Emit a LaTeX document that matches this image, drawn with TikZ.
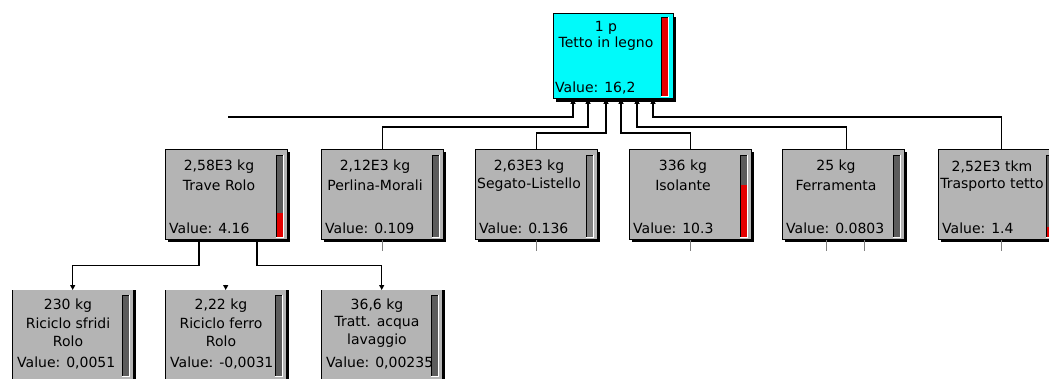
\documentclass[tikz,border=0pt]{standalone}
\usepackage{fontspec}
\setmainfont{DejaVu Sans}
\usetikzlibrary{arrows.meta,calc,shadows}
\definecolor{boxgray}{RGB}{180,180,180}
\definecolor{bargray}{RGB}{92,92,92}
\definecolor{barlight}{RGB}{128,128,128}
\definecolor{barred}{RGB}{228,0,0}
\definecolor{topcyan}{RGB}{0,250,250}
\tikzset{
  pbox/.style={draw=black, line width=0.8pt, fill=boxgray, inner sep=0pt,
    drop shadow={shadow xshift=3pt, shadow yshift=-3pt, fill=black, opacity=1}},
  topbox/.style={draw=black, line width=0.8pt, fill=topcyan, inner sep=0pt,
    drop shadow={shadow xshift=3pt, shadow yshift=-3.5pt, fill=black, opacity=1}},
  lbox/.style={fill=boxgray, inner sep=0pt,
    drop shadow={shadow xshift=2.5pt, shadow yshift=0pt, fill=black, opacity=1}},
  ptext/.style={inner sep=0pt, font=\fontsize{14}{16}\selectfont},
  arr/.style={line width=1.1pt, -{Triangle[width=5pt,length=5pt]}},
  stub/.style={line width=0.9pt, black!50},
}
% bar: node, x offset, top, bottom, red top, colour
\newcommand\pbar[6]{%
  \fill[#6] ($(#1.north west)+(#2,#3)$) rectangle ($(#1.north west)+(#2+7,#4)$);
  \fill[barred] ($(#1.north west)+(#2,#5)$) rectangle ($(#1.north west)+(#2+7,#4)$);
  \draw[black, line width=0.7pt] ($(#1.north west)+(#2,#4)$) -- ($(#1.north west)+(#2,#3)$) -- ($(#1.north west)+(#2+7,#3)$);
  \draw[white, line width=0.9pt] ($(#1.north west)+(#2+7,#3)$) -- ($(#1.north west)+(#2+7,#4)$) -- ($(#1.north west)+(#2,#4)$);
}
% middle box: name, left, line1, line2, value, red top, bar colour, bar x
\newcommand\midbox[8]{%
  \node[pbox, anchor=north west, minimum width=122pt, minimum height=90pt] (#1) at (#2,149) {};
  \node[ptext] (#1-a) at ($(#1.north west)+(54,18)$) {#3};
  \node[ptext] (#1-b) at ($(#1.north west)+(54,36)$) {#4};
  \node[ptext, anchor=west] (#1-v) at ($(#1.north west)+(4,79)$) {#5};
  \pbar{#1}{#8}{6}{88}{#6}{#7}
}
% lower box: name, left, line1, line2, line3, value
\newcommand\lowbox[6]{%
  \node[lbox, anchor=north west, minimum width=121pt, minimum height=95pt] (#1) at (#2,290) {};
  \draw[black, line width=0.9pt] (#1.north west) -- (#1.south west);
  \node[ptext] (#1-a) at ($(#1.north west)+(56,16)$) {#3};
  \node[ptext] (#1-b) at ($(#1.north west)+(56,33)$) {#4};
  \node[ptext] (#1-c) at ($(#1.north west)+(56,51)$) {#5};
  \node[ptext, anchor=west] (#1-v) at ($(#1.north west)+(5,73)$) {#6};
  \pbar{#1}{110}{5}{86}{86}{bargray}
}
\begin{document}
\begin{tikzpicture}[x=1pt, y=-1pt]
\useasboundingbox (0,0) rectangle (1049,378);
\fill[white] (0,0) rectangle (1049,378);
\clip (0,0) rectangle (1049,378);

% top node
\node[topbox, anchor=north west, minimum width=120pt, minimum height=85pt] (tetto) at (553,13) {};
\node[ptext] (tetto-a) at ($(tetto.north west)+(53,15)$) {1 p};
\node[ptext] (tetto-b) at ($(tetto.north west)+(53,31)$) {Tetto in legno};
\node[ptext, anchor=west] (tetto-v) at ($(tetto.north west)+(2,75)$) {Value: 16,2};
\pbar{tetto}{108}{4}{83}{4}{bargray}

% middle row
\midbox{trave}{165}{2,58E3 kg}{Trave Rolo}{Value: 4.16}{64}{bargray}{111}
\midbox{perlina}{321}{2,12E3 kg}{Perlina-Morali}{Value: 0.109}{88}{bargray}{111}
\midbox{segato}{475}{2,63E3 kg}{Segato-Listello}{Value: 0.136}{88}{barlight}{111}
\midbox{isolante}{629}{336 kg}{Isolante}{Value: 10.3}{36}{bargray}{111}
\midbox{ferramenta}{782}{25 kg}{Ferramenta}{Value: 0.0803}{88}{bargray}{111}
\midbox{trasporto}{938}{2,52E3 tkm}{Trasporto tetto}{Value: 1.4}{78}{bargray}{108}

% lower row
\lowbox{sfridi}{12}{230 kg}{Riciclo sfridi}{Rolo}{Value: 0,0051}
\lowbox{ferro}{165}{2,22 kg}{Riciclo ferro}{Rolo}{Value: -0,0031}
\lowbox{acqua}{321}{36,6 kg}{Tratt. acqua}{lavaggio}{Value: 0,00235}

% connectors into the top node
\coordinate (lfree) at (228,117);
\draw[arr] (lfree) -| ($(tetto.south west)+(20,0)$);
\draw[arr] (perlina.north) -- ++(0,-22) -| ($(tetto.south west)+(35,0)$);
\draw[arr] (segato.north) -- ++(0,-16) -| ($(tetto.south west)+(53,0)$);
\draw[arr] (isolante.north) -- ++(0,-16) -| ($(tetto.south west)+(68,0)$);
\draw[arr] ($(ferramenta.north)+(3,0)$) -- ++(0,-22) -| ($(tetto.south west)+(84,0)$);
\draw[arr] ($(trasporto.north)+(2,0)$) -- ++(0,-32) -| ($(tetto.south west)+(100,0)$);

% connectors to the lower row
\draw[arr] ($(trave.south west)+(34,0)$) -- ++(0,26) -| (sfridi.north);
\draw[arr] ($(trave.south west)+(92,0)$) -- ++(0,26) -| (acqua.north);
\draw[arr] ($(ferro.north)+(0,-5.5)$) -- (ferro.north);

% stubs below middle row
\draw[stub] (perlina.south) -- ++(0,11);
\draw[stub] (segato.south) -- ++(0,11);
\draw[stub] (isolante.south) -- ++(0,11);
\draw[stub] ($(ferramenta.south west)+(44,0)$) -- ++(0,11);
\draw[stub] ($(ferramenta.south west)+(82,0)$) -- ++(0,11);
\draw[stub] ($(trasporto.south)+(2,0)$) -- ++(0,11);
\end{tikzpicture}
\end{document}
